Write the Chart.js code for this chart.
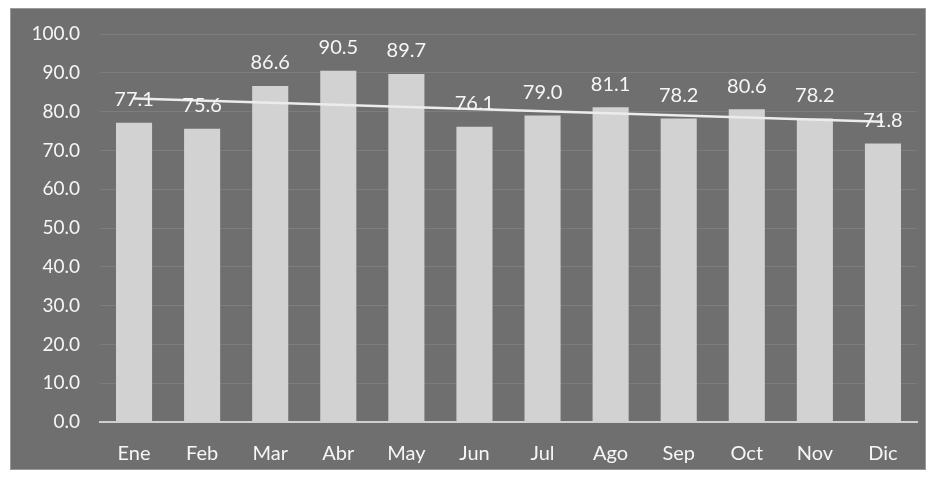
<!DOCTYPE html>
<html>
<head>
<meta charset="utf-8">
<script src="https://cdn.jsdelivr.net/npm/chart.js@4"></script>
<style>
  body { margin: 0; background: #fff; }
  #box {
    position: absolute; left: 10px; top: 8px; width: 916px; height: 462px;
    background: #6f6f6f; border: 1px solid #9a9a9a; box-sizing: border-box;
  }
</style>
</head>
<body>
<div id="box"><canvas id="chart"></canvas></div>
<script>
// monthly values
const months = ["Ene", "Feb", "Mar", "Abr", "May", "Jun", "Jul", "Ago", "Sep", "Oct", "Nov", "Dic"];
const values = [77.1, 75.6, 86.6, 90.5, 89.7, 76.1, 79.0, 81.1, 78.2, 80.6, 78.2, 71.8];
// trend line end points
const trendX = ["Ene", "Dic"];
const trendY = [83.4, 77.4];

const trendPoints = trendX.map(function (m, i) { return { x: m, y: trendY[i] }; });

// draw the value above each bar
const barLabels = {
  id: "barLabels",
  afterDatasetsDraw(chart) {
    const ctx = chart.ctx;
    const meta = chart.getDatasetMeta(1);
    ctx.save();
    ctx.font = "20px Lato";
    ctx.fillStyle = "#f6f6f6";
    ctx.textAlign = "center";
    ctx.textBaseline = "middle";
    meta.data.forEach(function (bar, i) {
      ctx.fillText(values[i].toFixed(1), bar.x, bar.y - 23);
    });
    ctx.restore();
  }
};

new Chart(document.getElementById("chart"), {
  data: {
    labels: months,
    datasets: [
      {
        type: "line",
        data: trendPoints,
        borderColor: "#ececec",
        borderWidth: 2.5,
        pointRadius: 0,
        fill: false,
        order: 0
      },
      {
        type: "bar",
        data: values,
        backgroundColor: "#d2d2d2",
        categoryPercentage: 1,
        barPercentage: 0.53,
        order: 1
      }
    ]
  },
  options: {
    responsive: true,
    maintainAspectRatio: false,
    animation: false,
    layout: { padding: { top: 25, right: 8, left: 0, bottom: 0 } },
    plugins: { legend: { display: false }, tooltip: { enabled: false } },
    scales: {
      x: {
        grid: { display: false, drawTicks: false },
        border: { color: "#cfcfcf", width: 2 },
        ticks: { color: "#f6f6f6", font: { family: "Lato", size: 20 }, padding: 20 },
        afterFit(axis) { axis.height = 47; }
      },
      y: {
        min: 0,
        max: 100,
        ticks: {
          stepSize: 10,
          color: "#f6f6f6",
          font: { family: "Lato", size: 19 },
          padding: 20,
          callback: function (v) { return v.toFixed(1); }
        },
        grid: { color: "#7d7d7d", drawTicks: false },
        border: { display: false },
        afterFit(axis) { axis.width = 89; axis.paddingTop = 0; axis.paddingBottom = 0; }
      }
    }
  },
  plugins: [barLabels]
});
</script>
</body>
</html>
